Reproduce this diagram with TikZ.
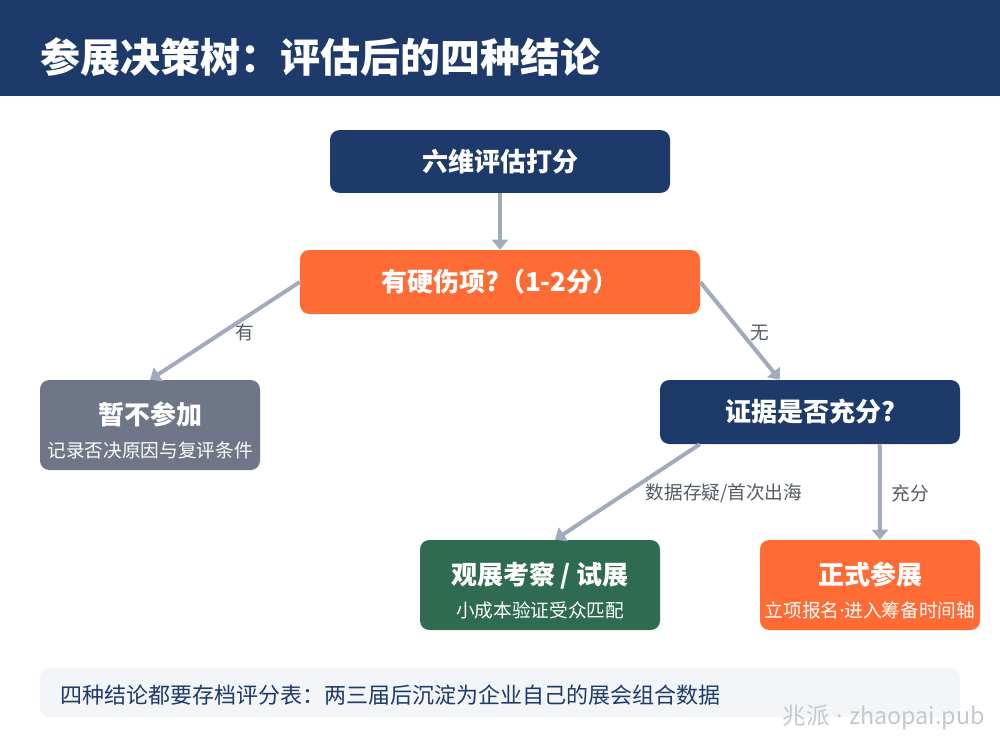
\documentclass[tikz,border=0pt]{standalone}
\usepackage{fontspec}
\setmainfont{Noto Sans CJK SC}
\newfontfamily\latinfont{Noto Sans}
\usetikzlibrary{arrows.meta,calc}
\definecolor{Navy}{HTML}{1D3A6B}
\definecolor{Flame}{HTML}{FF6B35}
\definecolor{Slate}{HTML}{6E7687}
\definecolor{Pine}{HTML}{2E6B50}
\definecolor{Steel}{HTML}{A2ABBC}
\definecolor{Ink}{HTML}{555B66}
\definecolor{Mist}{HTML}{F3F5F9}
\definecolor{Ghost}{HTML}{C4C8D0}
\newcommand{\cardhead}[1]{\rule{0pt}{25pt}{\fontsize{19.5}{22}\selectfont\bfseries #1}}

\begin{document}
\begin{tikzpicture}[x=0.75pt,y=-0.75pt,
    card/.style={rounded corners=7pt,text=white,align=center,inner sep=0pt,
      font=\fontsize{19.5}{22}\selectfont\bfseries},
    dcard/.style={card,minimum width=165pt,minimum height=67.5pt,
      font=\fontsize{14}{17}\selectfont},
    elabel/.style={text=Ink,font=\fontsize{14}{17}\selectfont,inner sep=0pt},
    arrow/.style={-{Triangle[length=7.5pt,width=12pt]},line width=3pt,draw=Steel}
]
\fill[white] (0,0) rectangle (1000,750);
\useasboundingbox (0,0) rectangle (1000,750);
% header
\fill[Navy] (0,0) rectangle (1000,96);
\node[anchor=west,text=white,inner sep=0pt,font=\fontsize{30}{34}\selectfont\bfseries]
  (title) at (40,57) {参展决策树：评估后的四种结论};
% decision nodes
\node[card,fill=Navy,minimum width=255pt,minimum height=47pt] (score) at (500,161.5) {六维评估打分};
\node[card,fill=Flame,minimum width=300pt,minimum height=48pt] (hurt) at (500,282) {有硬伤项?（1-2分）};
\node[card,fill=Navy,minimum width=225pt,minimum height=48pt] (proof) at (810,412) {证据是否充分?};
% outcomes
\node[dcard,fill=Slate] (skip) at (150,425)
  {\cardhead{暂不参加}\\[8pt]记录否决原因与复评条件};
\node[dcard,fill=Pine,minimum width=180pt] (trial) at (540,585)
  {\cardhead{观展考察 / 试展}\\[8pt]小成本验证受众匹配};
\node[dcard,fill=Flame] (go) at (870,585)
  {\cardhead{正式参展}\\[8pt]立项报名{\latinfont ·}进入筹备时间轴};
% connectors
\draw[arrow] (score)--(hurt);
\draw[arrow] (hurt.west)--(skip.north);
\draw[arrow] (hurt.east)--($(proof.north west)+(120,0)$);
\draw[arrow] ($(proof.south west)+(40,0)$)--($(trial.north)+(15,0)$);
\draw[arrow] ($(proof.south west)+(220,0)$)--($(go.north)+(10,0)$);
\node[elabel] (yes) at (245,332) {有};
\node[elabel] (no) at (760,333) {无};
\node[elabel] (doubt) at (724,493) {数据存疑/首次出海};
\node[elabel] (enough) at (910,493) {充分};
% footer
\fill[Mist,rounded corners=7pt] (40,668) rectangle (960,717);
\node[anchor=west,text=Navy,inner sep=0pt,font=\fontsize{16.5}{20}\selectfont]
  (note) at (60,695) {四种结论都要存档评分表：两三届后沉淀为企业自己的展会组合数据};
\node[anchor=east,text=Ghost,inner sep=0pt,font=\fontsize{17.5}{20}\selectfont]
  (mark) at (985,717) {兆派\hspace{5pt}{\latinfont ·}\hspace{5pt}zhaopai.pub};
\end{tikzpicture}
\end{document}
